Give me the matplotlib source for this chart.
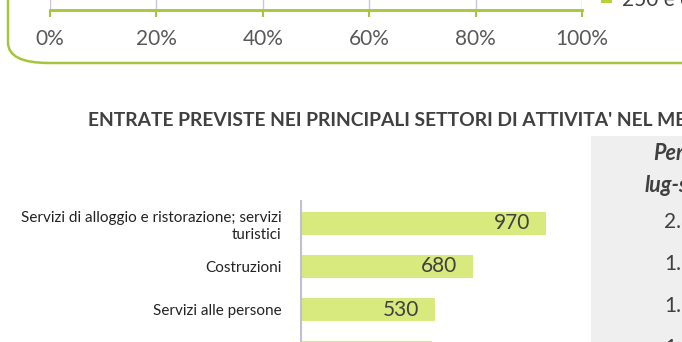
import matplotlib.pyplot as plt
from matplotlib.patches import FancyBboxPatch, Rectangle
from matplotlib.ticker import PercentFormatter

# data
pct_ticks = [0, 20, 40, 60, 80, 100]
legend_labels = ["250 e oltre"]
sectors = ["Servizi di alloggio e ristorazione; servizi\nturistici",
           "Costruzioni",
           "Servizi alle persone",
           "Commercio"]
entrate = [970, 680, 530, 520]
period_head = ["Periodo", "lug-set"]
period_vals = ["2.310", "1.670", "1.220", "1.150"]

title = "ENTRATE PREVISTE NEI PRINCIPALI SETTORI DI ATTIVITA' NEL MESE"

W, H = 682, 342
GREEN = '#a4c639'
BAR = '#d8e97e'
TXT = '#404040'
plt.rcParams['font.family'] = ['Lato', 'DejaVu Sans']

def fx(px):
    return px / W

def fy(py):  # py measured from top
    return 1 - py / H

fig = plt.figure(figsize=(6.82, 3.42), dpi=100, facecolor='white')

# rounded frame of the upper panel (only its bottom is visible)
frame = FancyBboxPatch((fx(8), fy(63)), fx(720), 0.5,
                       boxstyle="round,pad=0,rounding_size=0.06",
                       transform=fig.transFigure, fc='none', ec=GREEN, lw=1.8)
fig.add_artist(frame)

# upper chart: only the bottom axis shows
ax1 = fig.add_axes([fx(50), fy(9.5), fx(532), 0.3])
ax1.set_xlim(0, 100)
ax1.set_ylim(0, 1)
ax1.set_xticks(pct_ticks)
ax1.xaxis.set_major_formatter(PercentFormatter(decimals=0))
ax1.grid(axis='x', color='#c8c8dc', lw=1)
ax1.set_yticks([])
for s in ['top', 'left', 'right']:
    ax1.spines[s].set_visible(False)
ax1.spines['bottom'].set_color(GREEN)
ax1.spines['bottom'].set_linewidth(2)
ax1.tick_params(axis='x', direction='out', length=5, width=1.5, color=GREEN,
                labelsize=15, labelcolor='#595959', pad=9)
ax1.patch.set_alpha(0)

# legend entry (cut at the top edge)
fig.add_artist(Rectangle((fx(601), fy(3)), fx(11), fx(11) * W / H,
                         transform=fig.transFigure, fc='#b5d334', ec='none'))
fig.text(fx(622), fy(0), legend_labels[0], fontsize=15, color=TXT, va='center', ha='left')

# title
fig.text(fx(88), fy(120), title, fontsize=13.9, fontweight='bold', color=TXT,
         va='center', ha='left')

# grey table on the right
fig.add_artist(Rectangle((fx(591), 0), fx(100), fy(136), transform=fig.transFigure,
                         fc='#efefef', ec='none'))
fig.text(fx(653), fy(153), period_head[0], fontsize=15.5, fontweight='bold',
         style='italic', color=TXT, va='center', ha='left')
fig.text(fx(645), fy(186), period_head[1], fontsize=15.5, fontweight='bold',
         style='italic', color=TXT, va='center', ha='left')
for i, v in enumerate(period_vals):
    fig.text(fx(664), fy(222 + 42 * i), v, fontsize=15, color=TXT,
             va='center', ha='left')

# bar chart
ax2 = fig.add_axes([fx(301), fy(400), fx(252.6), (400 - 201) / H])
y = list(range(len(sectors)))
ax2.barh(y, entrate, height=23 / 43, color=BAR)
ax2.set_xlim(0, 1000)
ax2.set_ylim((400 - 223.5) / 43, -(223.5 - 201) / 43)
ax2.set_yticks(y)
ax2.set_yticklabels(sectors, ha='right', fontsize=11, color='#222222', linespacing=1.25)
ax2.tick_params(axis='y', length=0, pad=14)
ax2.set_xticks([])
for s in ['top', 'bottom', 'right']:
    ax2.spines[s].set_visible(False)
ax2.spines['left'].set_color('#c0c0d0')
ax2.spines['left'].set_linewidth(1.5)
for i, v in enumerate(entrate):
    ax2.annotate(str(v), (v, i), xytext=(-11, 0), textcoords='offset points',
                 ha='right', va='center', fontsize=15, color=TXT)

fig.savefig('out.png', dpi=100, facecolor='white')
